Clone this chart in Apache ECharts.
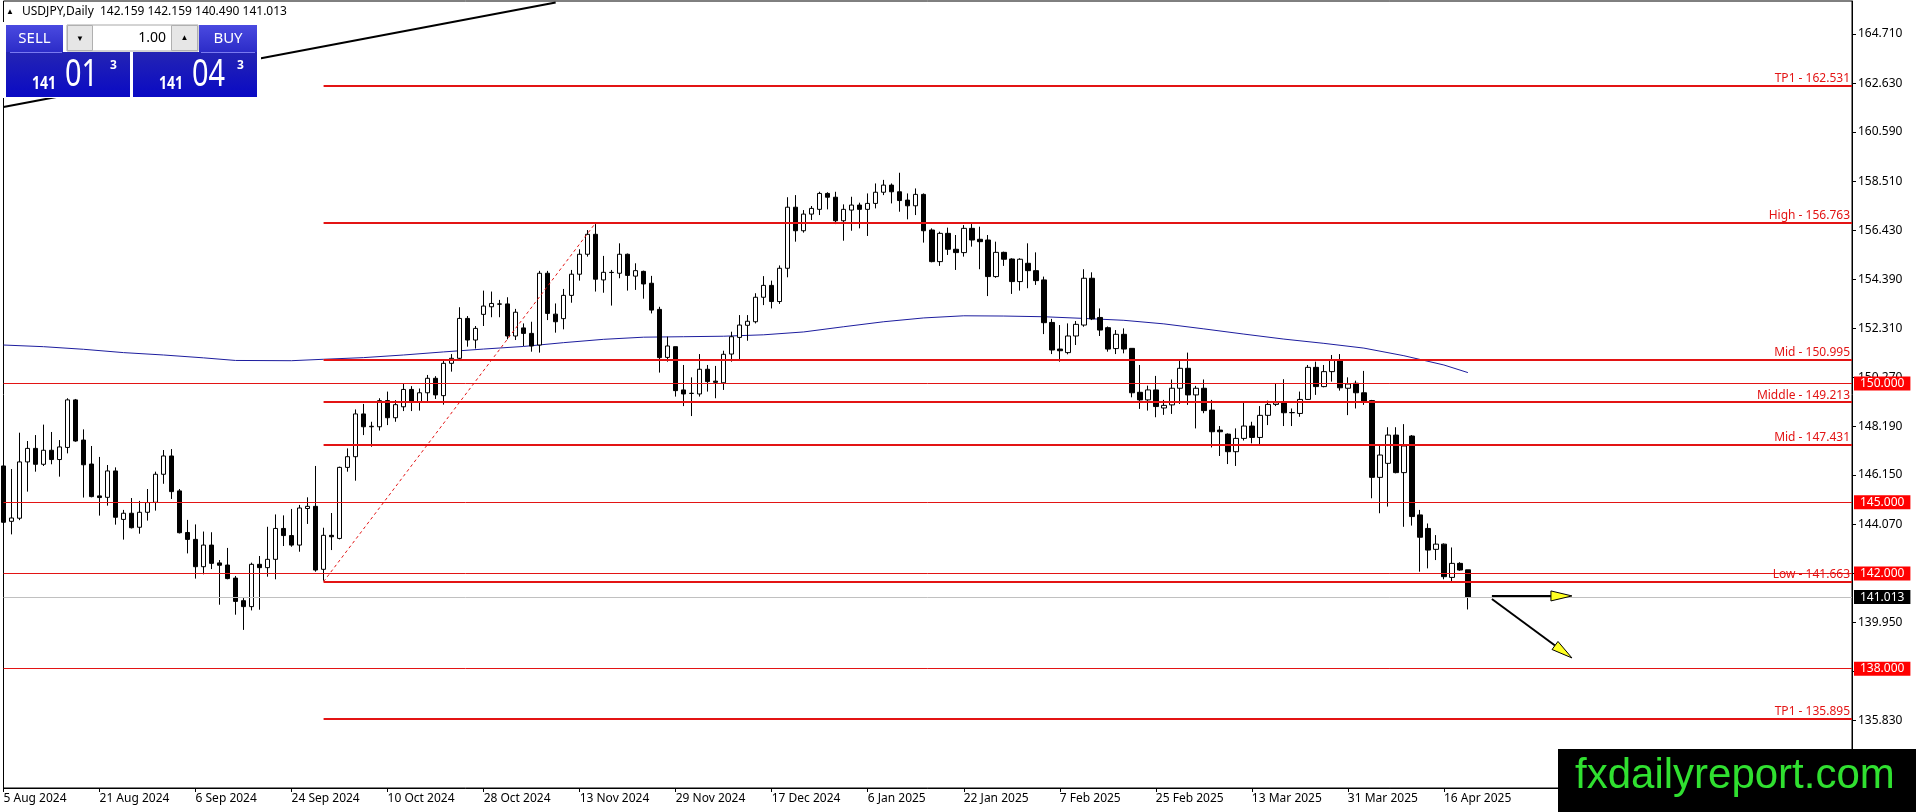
<!DOCTYPE html>
<html><head><meta charset="utf-8">
<script src="https://cdn.jsdelivr.net/npm/echarts@6/dist/echarts.min.js"></script>
<style>html,body{margin:0;padding:0;background:#fff;overflow:hidden}#c{width:1916px;height:812px}</style>
</head><body><div id="c"></div>
<script>
const symbolName = 'USDJPY';
const timeframe = 'Daily';
const firstDay = '2024-08-05';
const holidays = ['2024-12-25', '2025-01-01'];
const barCount = 184;
const futureSlots = 48;
const labelEvery = 12;

const opens = [146.53,144.20,144.33,146.70,147.27,146.60,147.19,146.80,147.31,149.31,147.62,146.61,145.27,145.21,146.32,144.28,144.54,143.95,144.58,145.00,146.18,146.95,145.48,143.73,143.44,142.29,143.20,142.45,142.36,141.81,140.86,140.61,142.39,142.25,142.60,143.90,143.60,143.20,144.74,144.83,142.18,143.61,143.48,146.47,146.92,148.72,148.18,148.18,149.28,148.56,149.02,149.75,149.24,149.61,150.22,149.49,150.85,151.06,152.74,151.83,152.91,153.23,153.35,153.35,152.00,152.34,152.11,151.62,154.64,152.92,152.73,153.71,154.60,155.44,156.28,154.36,154.68,154.64,155.44,154.52,154.72,154.22,153.12,151.10,151.55,149.73,149.58,149.56,150.60,150.10,150.03,151.24,151.94,152.45,152.60,153.63,154.13,153.45,154.85,157.42,156.43,157.13,157.33,158.00,157.84,156.85,157.30,157.51,157.33,157.58,158.05,158.35,158.07,157.72,157.48,157.96,156.46,155.13,156.32,155.65,155.51,156.53,156.07,156.04,154.50,155.52,155.24,154.29,155.06,154.75,154.36,152.57,151.45,151.30,152.00,152.46,154.43,152.78,152.35,151.47,152.07,151.48,149.63,149.31,149.73,148.97,149.10,149.80,150.64,149.52,149.80,148.88,148.04,147.87,147.13,147.69,148.21,147.73,148.66,149.12,149.19,148.77,148.74,149.33,150.68,149.87,150.50,150.99,149.80,150.01,149.61,149.28,146.05,146.64,147.83,146.25,147.79,144.47,143.90,143.02,143.24,141.84,142.43,142.159];
const highs = [146.67,146.40,147.93,147.58,147.83,148.27,147.96,147.62,149.38,149.35,148.07,147.37,146.91,146.57,146.47,144.68,145.18,145.06,145.56,146.29,147.20,147.24,145.56,144.26,144.07,143.77,143.74,142.57,143.08,141.90,140.97,142.46,142.74,143.97,144.49,144.45,144.72,144.89,145.21,146.53,143.93,144.55,146.50,147.27,148.91,149.14,148.39,149.38,149.66,149.30,149.98,149.89,149.79,150.36,150.31,151.02,151.24,153.21,152.84,152.42,153.91,153.87,153.52,153.63,153.14,152.53,152.60,154.74,154.74,153.37,153.98,154.78,155.65,156.46,156.71,155.37,154.78,155.90,155.47,155.06,154.75,154.53,153.23,151.97,151.55,150.78,150.26,151.24,150.78,150.74,151.38,152.18,152.88,152.88,153.80,154.52,154.33,154.97,157.84,157.93,157.30,157.47,158.07,158.05,158.07,157.54,157.86,157.61,158.00,158.42,158.57,158.42,158.87,158.00,158.21,158.00,156.53,156.39,156.56,156.25,156.67,156.74,156.60,156.25,155.97,155.55,155.27,155.27,155.90,155.52,154.50,152.72,152.46,152.53,152.63,154.81,154.68,153.16,152.40,152.25,152.32,151.48,150.78,149.91,150.32,149.31,150.17,150.96,151.30,149.90,150.17,149.31,148.21,147.90,148.11,149.19,148.39,149.05,149.28,150.01,150.18,148.95,149.66,150.78,150.92,150.78,151.20,151.24,150.26,150.12,150.53,149.31,147.41,148.16,148.16,148.29,147.83,144.68,144.11,143.62,143.27,143.10,142.48,142.159];
const lows = [141.70,143.65,144.25,145.45,146.29,146.53,146.60,146.08,147.06,147.55,145.20,145.21,144.44,144.86,144.06,143.43,143.90,143.68,144.23,144.65,145.78,145.14,143.69,142.85,141.79,141.97,142.19,140.69,141.76,140.27,139.63,140.45,140.48,141.87,141.76,143.16,143.13,142.92,144.09,142.08,141.70,142.99,143.44,146.29,145.91,147.83,147.34,148.02,148.25,148.39,148.84,148.84,148.86,149.24,149.35,149.11,150.50,151.02,151.55,151.47,152.42,152.79,152.79,151.86,151.83,151.58,151.34,151.30,152.67,152.14,152.28,153.40,154.33,155.34,153.87,153.82,153.28,154.43,153.91,153.94,153.57,152.95,150.46,150.92,149.45,149.05,148.63,149.45,149.66,149.38,149.73,150.92,151.02,151.80,152.53,153.30,153.16,153.35,154.47,155.97,156.35,156.88,157.09,157.33,156.71,156.01,156.43,156.53,156.21,157.37,157.93,157.58,157.23,156.91,157.09,155.93,155.10,154.95,155.41,154.78,155.34,155.76,154.81,153.68,154.45,154.95,153.77,153.91,154.01,154.15,152.08,151.24,150.92,151.23,151.62,152.39,152.67,152.00,151.34,151.24,151.27,149.42,148.93,148.86,148.58,148.68,148.72,149.14,149.10,148.11,148.75,147.31,146.95,146.61,146.53,147.60,147.48,147.45,148.25,149.05,148.21,148.21,148.60,149.31,149.52,149.84,150.08,149.70,148.67,148.95,149.10,145.17,144.54,144.82,146.22,143.97,144.02,142.08,142.22,142.57,141.76,141.62,142.12,140.490];
const closes = [144.16,144.34,146.70,147.27,146.60,147.19,146.80,147.33,149.31,147.58,146.58,145.24,145.20,146.32,144.37,144.54,143.93,144.58,144.99,146.18,146.95,145.45,143.72,143.44,142.29,143.20,142.43,142.35,141.79,140.83,140.61,142.39,142.25,142.60,143.90,143.60,143.20,144.76,144.83,142.15,143.61,143.55,146.47,146.92,148.72,148.18,148.20,149.28,148.56,149.11,149.75,149.24,149.61,150.22,149.52,150.85,151.06,152.74,151.83,152.32,153.26,153.37,153.34,152.00,153.00,152.11,151.58,154.64,152.95,152.60,153.71,154.60,155.44,156.28,154.39,154.68,154.67,155.44,154.55,154.75,154.19,153.09,151.09,151.58,149.70,149.56,149.59,150.60,150.08,150.05,151.23,151.97,152.46,152.62,153.63,154.13,153.45,154.85,157.42,156.43,157.13,157.37,158.00,157.84,156.85,157.33,157.51,157.33,157.58,158.05,158.35,158.07,157.70,157.48,157.96,156.43,155.13,156.32,155.65,155.51,156.53,156.04,155.97,154.50,155.52,155.23,154.29,155.23,154.75,154.33,152.56,151.41,151.38,152.00,152.49,154.43,152.72,152.25,151.45,152.07,151.45,149.61,149.31,149.73,149.03,149.08,149.80,150.64,149.52,149.80,148.86,147.97,147.97,147.13,147.69,148.21,147.73,148.66,149.12,149.19,148.77,148.78,149.33,150.68,149.87,150.50,150.99,149.82,149.98,149.61,149.26,146.05,146.99,147.83,146.25,147.37,144.40,143.53,142.99,143.24,141.87,142.43,142.15,141.013];

const maPoints = [[0,151.62],[5,151.55],[10,151.44],[15,151.30],[20,151.20],[25,151.08],[29,150.97],[36,150.96],[40,151.02],[45,151.09],[50,151.20],[55,151.33],[60,151.45],[65,151.56],[70,151.72],[75,151.86],[80,151.95],[85,151.97],[90,151.99],[95,152.05],[100,152.17],[105,152.39],[110,152.60],[115,152.76],[120,152.85],[125,152.84],[130,152.81],[135,152.74],[140,152.66],[145,152.51],[150,152.30],[155,152.08],[160,151.87],[165,151.69],[170,151.49],[175,151.17],[180,150.78],[183,150.46]];

const fibStart = [40, 141.663];
const fibEnd = [74, 156.763];
const trendLine = [[0, 161.64], [69, 166.04]];
const levelNames = ['TP1', 'High', 'Mid', 'Middle', 'Mid', 'Low', 'TP1'];
const levelValues = [162.531, 156.763, 150.995, 149.213, 147.431, 141.663, 135.895];
const roundLevels = [150.000, 145.000, 142.000, 138.000];
const currentPrice = 141.013;
const priceTicks = [135.83, 137.89, 139.95, 142.01, 144.07, 146.15, 148.19, 150.27, 152.31, 154.39, 156.43, 158.51, 160.59, 162.63, 164.71];
const yMin = 132.976, yMax = 166.099;
const arrows = [
  {from: [186, 141.06], to: [195.75, 141.06]},
  {from: [185.5, 140.93], to: [196, 138.45]}
];
const lotSize = '1.00';
const askPrice = 141.043;

const monthNames = ['Jan','Feb','Mar','Apr','May','Jun','Jul','Aug','Sep','Oct','Nov','Dec'];
function buildDays() {
  const out = [];
  const d = new Date(firstDay + 'T00:00:00Z');
  while (out.length < barCount) {
    const wd = d.getUTCDay();
    const iso = d.toISOString().slice(0, 10);
    if (wd !== 0 && wd !== 6 && holidays.indexOf(iso) < 0) {
      out.push(d.getUTCDate() + ' ' + monthNames[d.getUTCMonth()] + ' ' + d.getUTCFullYear());
    }
    d.setUTCDate(d.getUTCDate() + 1);
  }
  for (let i = 0; i < futureSlots; i++) out.push('_f' + i);
  return out;
}
const categories = buildDays();
const lastIdx = categories.length - 1;
const showIdx = (i) => i % labelEvery === 0 && i < barCount;

const RED = '#e31414';
const FONT = 'Noto Sans';

const markData = [];
levelValues.forEach((v, k) => {
  markData.push([
    {coord: [fibStart[0], v], lineStyle: {color: RED, width: 2, type: 'solid'},
     label: {show: true, position: 'insideEndTop', formatter: levelNames[k] + ' - ' + v.toFixed(3),
       color: RED, fontSize: 12, fontFamily: FONT, distance: [2, 1]}},
    {coord: [lastIdx, v]}
  ]);
});
roundLevels.forEach(v => {
  markData.push({yAxis: v, lineStyle: {color: RED, width: 1, type: 'solid'},
    label: {show: true, position: 'end', formatter: v.toFixed(3), color: '#fff', backgroundColor: '#ff0000',
      fontSize: 12, fontFamily: FONT, lineHeight: 14, padding: [0, 6, 0, 6], distance: 2}});
});
markData.push({yAxis: currentPrice, lineStyle: {color: '#c0c0c0', width: 1, type: 'solid'},
  label: {show: true, position: 'end', formatter: currentPrice.toFixed(3), color: '#fff', backgroundColor: '#000',
    fontSize: 12, fontFamily: FONT, lineHeight: 14, padding: [0, 6, 0, 6], distance: 2}});

const chart = echarts.init(document.getElementById('c'), null, {renderer: 'canvas'});
chart.setOption({
  animation: false,
  backgroundColor: '#fff',
  grid: {left: 3.5, right: 64, top: 1, bottom: 24, show: true, borderColor: '#000', borderWidth: 1, backgroundColor: 'transparent'},
  xAxis: {
    type: 'category', data: categories, boundaryGap: false,
    axisLine: {show: true, lineStyle: {color: '#000', width: 1}},
    axisTick: {show: true, interval: showIdx, length: 4, lineStyle: {color: '#000'}},
    axisLabel: {show: true, interval: showIdx, align: 'left', color: '#000', fontSize: 12, fontFamily: FONT, margin: 5,
      formatter: (v) => v.charAt(0) === '_' ? '' : v},
    splitLine: {show: false}
  },
  yAxis: {
    type: 'value', position: 'right', min: yMin, max: yMax,
    axisLine: {show: true, lineStyle: {color: '#000', width: 1}},
    axisTick: {show: true, inside: false, length: 4, customValues: priceTicks, lineStyle: {color: '#000'}},
    axisLabel: {show: true, customValues: priceTicks, formatter: (v) => Number(v).toFixed(3), color: '#000', fontSize: 12, fontFamily: FONT, margin: 6},
    splitLine: {show: false}
  },
  series: [
    {type: 'line', name: 'MA', data: maPoints, symbol: 'none', smooth: false, z: 2,
     lineStyle: {color: '#1d1d9e', width: 1}},
    {type: 'candlestick', name: symbolName, z: 3, barWidth: 5,
     data: opens.map((o, i) => [o, closes[i], lows[i], highs[i]]),
     itemStyle: {color: '#ffffff', color0: '#000000', borderColor: '#000000', borderColor0: '#000000', borderWidth: 1}},
    {type: 'line', name: 'trend', data: trendLine, symbol: 'none', z: 4,
     lineStyle: {color: '#000', width: 2}},
    {type: 'line', name: 'fib', data: [fibStart, fibEnd], symbol: 'none', z: 5,
     lineStyle: {color: RED, width: 1, type: [3, 3]},
     markLine: {silent: true, symbol: ['none', 'none'], animation: false, data: markData}}
  ]
});

// overlay graphics: trading panel, watermark, arrows
const g = [];
const last = barCount - 1;
g.push({type: 'rect', shape: {x: 3, y: 22, width: 258, height: 76}, style: {fill: '#ffffff'}, z: 100});
g.push({type: 'text', x: 6, y: 12, style: {text: '▲', fill: '#000', font: '8px "' + FONT + '"', verticalAlign: 'middle'}, z: 100});
g.push({type: 'text', x: 22, y: 12, style: {text: symbolName + ',' + timeframe + '  ' + [opens[last], highs[last], lows[last], closes[last]].map(v => v.toFixed(3)).join(' '),
  fill: '#000', font: '12px "' + FONT + '"', verticalAlign: 'middle'}, z: 100});
const btnFill = new echarts.graphic.LinearGradient(0, 0, 0, 1, [{offset: 0, color: '#4a4ae0'}, {offset: 1, color: '#2c2cc8'}]);
const bigFill = new echarts.graphic.LinearGradient(0, 0, 0, 1, [{offset: 0, color: '#2424b4'}, {offset: 1, color: '#0a0ac4'}]);
g.push({type: 'rect', shape: {x: 6, y: 25, width: 57, height: 27}, style: {fill: btnFill}, z: 100});
g.push({type: 'text', x: 34.5, y: 38.5, style: {text: 'SELL', fill: '#fff', font: '15px "' + FONT + '"', align: 'center', verticalAlign: 'middle'}, z: 101});
g.push({type: 'rect', shape: {x: 199, y: 25, width: 58, height: 27}, style: {fill: btnFill}, z: 100});
g.push({type: 'text', x: 228, y: 38.5, style: {text: 'BUY', fill: '#fff', font: '15px "' + FONT + '"', align: 'center', verticalAlign: 'middle'}, z: 101});
g.push({type: 'rect', shape: {x: 67, y: 25, width: 131, height: 26}, style: {fill: '#ffffff', stroke: '#a8a8a8', lineWidth: 1}, z: 100});
g.push({type: 'rect', shape: {x: 67.5, y: 25.5, width: 25, height: 25}, style: {fill: '#e6e6e6', stroke: '#b0b0b0', lineWidth: 1}, z: 101});
g.push({type: 'rect', shape: {x: 171.5, y: 25.5, width: 26, height: 25}, style: {fill: '#e6e6e6', stroke: '#b0b0b0', lineWidth: 1}, z: 101});
g.push({type: 'text', x: 80, y: 38.5, style: {text: '▼', fill: '#000', font: '8px "' + FONT + '"', align: 'center', verticalAlign: 'middle'}, z: 102});
g.push({type: 'text', x: 184.5, y: 38, style: {text: '▲', fill: '#000', font: '8px "' + FONT + '"', align: 'center', verticalAlign: 'middle'}, z: 102});
g.push({type: 'text', x: 166, y: 38.5, style: {text: lotSize, fill: '#000', font: '14px "' + FONT + '"', align: 'right', verticalAlign: 'middle'}, z: 102});
g.push({type: 'rect', shape: {x: 6, y: 52, width: 124, height: 45}, style: {fill: bigFill}, z: 100});
g.push({type: 'rect', shape: {x: 133, y: 52, width: 124, height: 45}, style: {fill: bigFill}, z: 100});
g.push({type: 'line', shape: {x1: 10, y1: 52.5, x2: 62, y2: 52.5}, style: {stroke: '#7a7af0', lineWidth: 1}, z: 101});
g.push({type: 'line', shape: {x1: 201, y1: 52.5, x2: 255, y2: 52.5}, style: {stroke: '#7a7af0', lineWidth: 1}, z: 101});
function priceBox(x0, price) {
  const s = price.toFixed(3);
  const big = s.slice(0, 3), mid = s.slice(4, 6), sup = s.slice(6);
  g.push({type: 'text', x: x0 + 26, y: 84, scaleX: 0.78, style: {text: big, fill: '#fff', font: 'bold 18px "' + FONT + '"', verticalAlign: 'middle'}, z: 102});
  g.push({type: 'text', x: x0 + 59, y: 75, scaleX: 0.74, style: {text: mid, fill: '#fff', font: '39px "' + FONT + '"', verticalAlign: 'middle'}, z: 102});
  g.push({type: 'text', x: x0 + 104, y: 66, style: {text: sup, fill: '#fff', font: 'bold 12px "' + FONT + '"', verticalAlign: 'middle'}, z: 102});
}
priceBox(6, closes[last]);
priceBox(133, askPrice);
g.push({type: 'rect', shape: {x: 1558, y: 749, width: 358, height: 63}, style: {fill: '#000'}, z: 110});
g.push({type: 'text', x: 1575, y: 776, style: {text: 'fxdailyreport.com', fill: '#30e030', font: '42px "Liberation Sans"', verticalAlign: 'middle'}, z: 111});

arrows.forEach(a => {
  const p0 = chart.convertToPixel({gridIndex: 0}, a.from);
  const p1 = chart.convertToPixel({gridIndex: 0}, a.to);
  const dx = p1[0] - p0[0], dy = p1[1] - p0[1];
  const len = Math.sqrt(dx * dx + dy * dy);
  const ux = dx / len, uy = dy / len;
  const hl = 21, hw = 5;
  const bx = p1[0] - ux * hl, by = p1[1] - uy * hl;
  g.push({type: 'line', shape: {x1: p0[0], y1: p0[1], x2: bx, y2: by}, style: {stroke: '#000', lineWidth: 2}, z: 50});
  g.push({type: 'polygon', shape: {points: [[p1[0], p1[1]], [bx - uy * hw, by + ux * hw], [bx + uy * hw, by - ux * hw]]},
    style: {fill: '#ffff22', stroke: '#000', lineWidth: 1}, z: 51});
});

chart.setOption({graphic: {elements: g}});
</script>
</body></html>
